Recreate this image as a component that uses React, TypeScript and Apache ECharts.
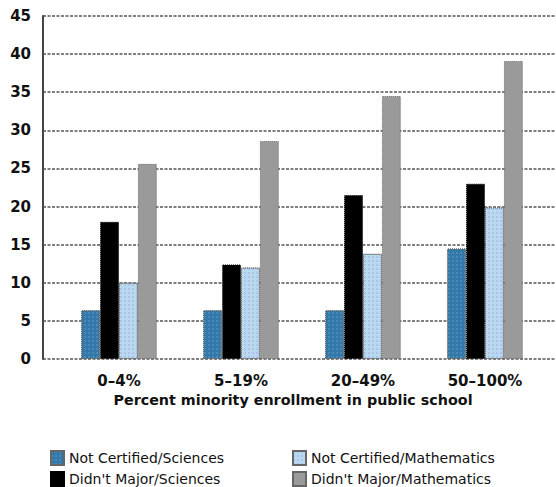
import React, { useEffect, useRef } from "react";
import * as echarts from "echarts";

const categories = ["0–4%", "5–19%", "20–49%", "50–100%"];
const seriesNames = [
  "Not Certified/Sciences",
  "Didn't Major/Sciences",
  "Not Certified/Mathematics",
  "Didn't Major/Mathematics",
];
const notCertifiedSciences = [6.4, 6.4, 6.4, 14.5];
const didntMajorSciences = [18.0, 12.4, 21.5, 23.0];
const notCertifiedMath = [10.0, 12.0, 13.8, 19.9];
const didntMajorMath = [25.6, 28.6, 34.5, 39.1];
const yTicks = { min: 0, max: 45, interval: 5 };
const xAxisTitle = "Percent minority enrollment in public school";

const colors = ["#3279aa", "#000000", "#b8daee", "#9a9a9a"];
const dotColors = ["rgba(120,170,210,0.8)", null, "rgba(160,140,225,0.8)", null];

export default function App() {
  const ref = useRef<HTMLDivElement>(null);
  useEffect(() => {
    if (!ref.current) return;
    const chart = echarts.init(ref.current, null, { renderer: "svg" });
    const data = [notCertifiedSciences, didntMajorSciences, notCertifiedMath, didntMajorMath];
    const font = "DejaVu Sans";
    const legendText = { fontFamily: font, fontSize: 14, color: "#111" };
    const legendPos = [
      { left: 45, top: 445 },
      { left: 45, top: 466 },
      { left: 287, top: 445 },
      { left: 287, top: 466 },
    ];
    chart.setOption({
      animation: false,
      backgroundColor: "#ffffff",
      grid: [
        { left: 43, right: 0, top: 16, bottom: 128 },
        { left: 58, right: 10, top: 16, bottom: 128 },
      ],
      xAxis: [
        { type: "value", gridIndex: 0, show: false, min: 0, max: 1 },
        {
          type: "category",
          gridIndex: 1,
          data: categories,
          axisLine: { show: false },
          axisTick: { show: false },
          axisLabel: {
            fontFamily: font,
            fontWeight: "bold",
            fontSize: 15,
            color: "#111",
            margin: 14,
          },
          name: xAxisTitle,
          nameLocation: "middle",
          nameGap: 33,
          nameTextStyle: {
            fontFamily: font,
            fontWeight: "bold",
            fontSize: 14.3,
            color: "#111",
            padding: [0, 18, 0, 0],
          },
        },
      ],
      yAxis: [
        {
          type: "value",
          gridIndex: 0,
          min: yTicks.min,
          max: yTicks.max,
          interval: yTicks.interval,
          axisLine: { show: true, lineStyle: { color: "#444", width: 2 } },
          axisTick: { show: false },
          axisLabel: {
            fontFamily: font,
            fontWeight: "bold",
            fontSize: 15,
            color: "#111",
            margin: 12,
          },
          splitLine: {
            show: true,
            lineStyle: { color: "#555", width: 1.5, type: [3, 1.5] },
          },
        },
        {
          type: "value",
          gridIndex: 1,
          min: yTicks.min,
          max: yTicks.max,
          interval: yTicks.interval,
          show: false,
          splitLine: { show: false },
        },
      ],
      legend: seriesNames.map((n, i) => ({
        ...legendPos[i],
        itemWidth: 13,
        itemHeight: 14,
        icon: "rect",
        data: [n],
        textStyle: legendText,
      })),
      series: seriesNames.map((name, i) => ({
        name,
        type: "bar",
        xAxisIndex: 1,
        yAxisIndex: 1,
        data: data[i],
        barGap: "0%",
        barCategoryGap: "38%",
        itemStyle: {
          color: colors[i],
          borderColor: i === 1 ? "#000" : "#666",
          borderWidth: 1,
          borderType: "dotted",
          decal: dotColors[i]
            ? {
                symbol: "circle",
                symbolSize: 0.7,
                color: dotColors[i],
                dashArrayX: [1.5, 1.5],
                dashArrayY: [1.5, 1.5],
              }
            : "none",
        },
      })),
    });
    return () => chart.dispose();
  }, []);
  return <div ref={ref} style={{ width: 556, height: 487, position: "absolute", left: 0, top: 0 }} />;
}
